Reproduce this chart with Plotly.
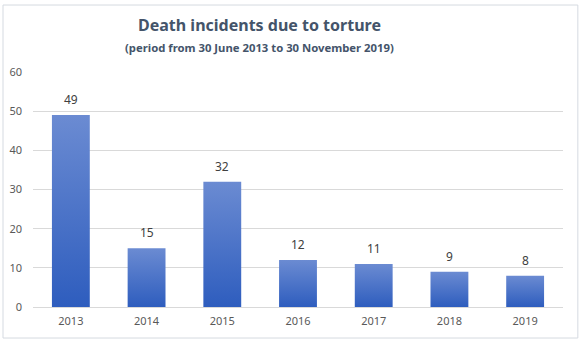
import plotly.graph_objects as go

years = ["2013", "2014", "2015", "2016", "2017", "2018", "2019"]
deaths = [49, 15, 32, 12, 11, 9, 8]
y_ticks = [0, 10, 20, 30, 40, 50, 60]

BAR_HALF = 0.25
TOP_COLOR = "#6B8BD2"
BOTTOM_COLOR = "#2E5DBE"

fig = go.Figure()

# Each bar is a filled rectangle with a vertical gradient (light top, dark bottom)
for i, v in enumerate(deaths):
    fig.add_trace(go.Scatter(
        x=[i - BAR_HALF, i + BAR_HALF, i + BAR_HALF, i - BAR_HALF, i - BAR_HALF],
        y=[0, 0, v, v, 0],
        mode="lines",
        line=dict(width=0),
        fill="toself",
        fillgradient=dict(
            type="vertical",
            colorscale=[[0, BOTTOM_COLOR], [1, TOP_COLOR]],
            start=0,
            stop=v,
        ),
        hoverinfo="skip",
        showlegend=False,
    ))

# Value labels above bars
annotations = [
    dict(
        x=i, y=v, xref="x", yref="y",
        text=str(v), showarrow=False,
        yanchor="bottom", yshift=5,
        font=dict(family="Noto Sans", size=12, color="#404040"),
    )
    for i, v in enumerate(deaths)
]

# Title and subtitle
annotations += [
    dict(
        x=0.428, y=1.2, xref="paper", yref="paper",
        text="<b>Death incidents due to torture</b>", showarrow=False,
        xanchor="center", yanchor="middle",
        font=dict(family="Noto Sans", size=16, color="#44546A"),
    ),
    dict(
        x=0.428, y=1.106, xref="paper", yref="paper",
        text="<b>(period from 30 June 2013 to 30 November 2019)</b>", showarrow=False,
        xanchor="center", yanchor="middle",
        font=dict(family="Noto Sans", size=11.3, color="#44546A"),
    ),
]

fig.update_layout(
    width=583,
    height=343,
    margin=dict(l=33, r=20, t=72, b=36),
    paper_bgcolor="white",
    plot_bgcolor="white",
    annotations=annotations,
    xaxis=dict(
        range=[-0.5, len(years) - 0.5],
        tickvals=list(range(len(years))),
        ticktext=years,
        showgrid=False,
        zeroline=False,
        showline=False,
        ticks="",
        ticklabelstandoff=6,
        automargin=False,
        tickfont=dict(family="Noto Sans", size=11, color="#595959"),
        fixedrange=True,
    ),
    yaxis=dict(
        range=[0, 60],
        tickvals=y_ticks,
        showgrid=True,
        gridcolor="#D9D9D9",
        gridwidth=1,
        zeroline=True,
        zerolinecolor="#D9D9D9",
        zerolinewidth=1,
        showline=False,
        ticks="",
        ticklabelstandoff=10,
        automargin=False,
        tickfont=dict(family="Noto Sans", size=11, color="#595959"),
        fixedrange=True,
    ),
    shapes=[dict(
        type="rect",
        xref="paper", yref="paper",
        x0=-0.0566, x1=1.028, y0=-0.132, y1=1.285,
        line=dict(color="#D5DAE1", width=1),
        fillcolor="rgba(0,0,0,0)",
        layer="above",
    )],
)

fig.write_html("out.html")
